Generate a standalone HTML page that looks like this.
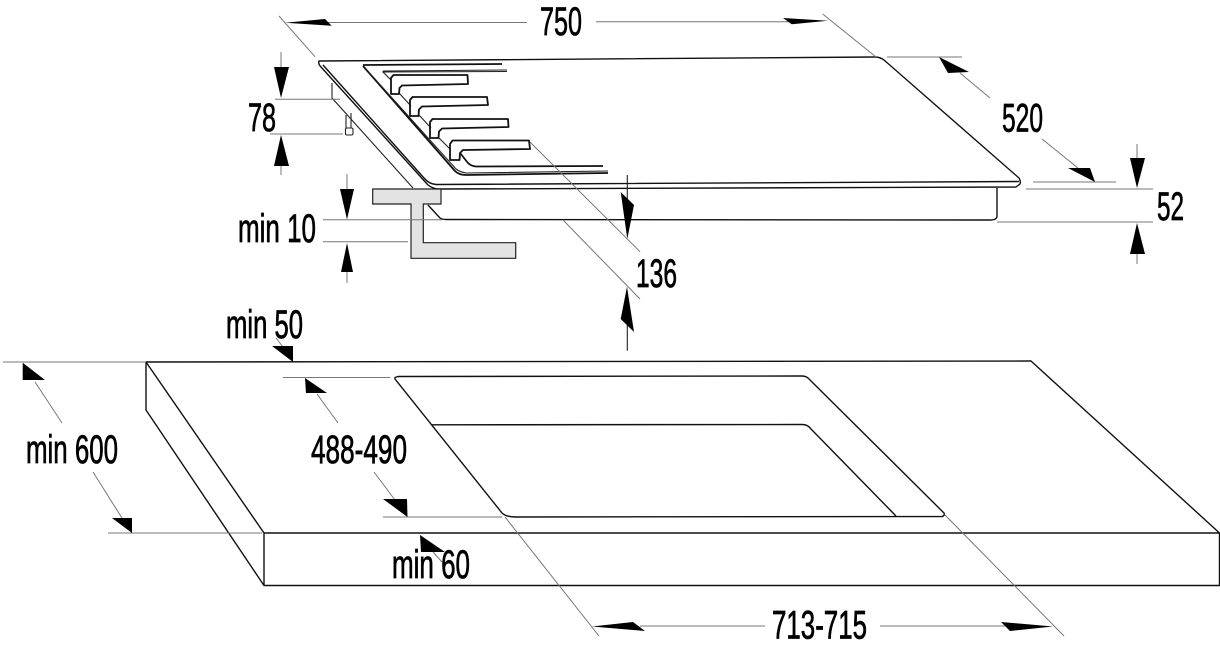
<!DOCTYPE html>
<html><head><meta charset="utf-8"><style>
html,body{margin:0;padding:0;background:#fff;width:1220px;height:648px;overflow:hidden}
svg{display:block}
text{font-family:"Liberation Sans",sans-serif;font-size:39.5px;fill:#000;stroke:#000;stroke-width:.75px}
.o{fill:none;stroke:#111;stroke-width:1.4;stroke-linejoin:round}
.t{fill:none;stroke:#111;stroke-width:1.8;stroke-linejoin:round}
.d{fill:none;stroke:#777;stroke-width:1}
.k{fill:none;stroke:#222;stroke-width:1.1}
.a{fill:#000;stroke:none}
</style></head><body>
<svg width="1220" height="648" viewBox="0 0 1220 648" xmlns="http://www.w3.org/2000/svg">
<!-- hob -->
<path class="o" d="M319,61 L875,57 Q880,57 884,60 L1019,178 Q1021,181 1020,184 L1016,187 L440,189 Q433,189 428,185 L321,67 Q318,64 319,61Z"/>
<path class="o" d="M323,65 L424,178 Q429,184 436,184.500 L1019,181.500"/>
<path class="o" d="M428,205 L440,218 Q442,219.500 446,219.500 L990,220 Q997,220 997,216 L997,188"/>
<path class="k" d="M332,83 V98 L413,188"/>
<path class="k" d="M346,115 V128 M351,113 V128"/>
<rect x="345.500" y="128" width="7.500" height="7" rx="1.500" class="k"/>
<!-- recess -->
<path class="t" d="M363,65 L502,64"/>
<path class="t" d="M363,66 L455,171 Q459,175 466,175 L608,173"/>
<path class="k" d="M365,68 L456,169 Q460,172 466,173 L608,171"/>
<path class="k" d="M383,71 L507,70 M507,71.500 L383,72 L391,80"/>
<path class="k" d="M399,93 L411,106 M419,115 L431,128 M438,137 L450,149"/>
<path class="t" d="M460,153 L468,163 Q471,166 476,166.500 L603,166"/>
<!-- grates -->
<g id="g">
<path class="t" d="M391,94 V78 L393.500,75 H467.500 L468,84 L402,85.500 L399.500,88 L399,94 Z"/>
<path class="t" d="M410,116 V100 L412.500,97 H487 L488,105 L422,106.500 L419,109.500 L418.500,116 Z"/>
<path class="t" d="M430,138 V122 L432.500,119 H508 L508.500,127 L442,128.500 L439,131.500 L438.500,138 Z"/>
<path class="t" d="M450,160 V144 L452.500,140.500 H529 L530,149 L463,150 L460,153 L459.500,160 Z"/>
</g>
<!-- bracket -->
<path d="M372.700,189 H441 V204 H423.300 V242.700 H515.700 V258.300 H411 V204 H372.700 Z" fill="#e3e3e3" stroke="#222" stroke-width="1.200"/>
<!-- countertop -->
<path class="o" d="M146,362 L1031,361 L1219.500,533 L264,533 L146,362 V410 L264,585.500 H1219.500 V533 M264,533 V585.500"/>
<path class="o" d="M395,377.500 L398,376.500 L802,376 Q807,376 810,380 L944,513 Q945,516 942,516.500 L516,517 Q506,517 502,513 L395,379 Z"/>
<path class="o" d="M432,424.800 L802,424.500 Q808,424.500 811,429 L896,516"/>
<!-- dimension lines -->
<path class="d" d="M279,16 L315,56.700 M822.700,14 L876,57 M296,22.500 H527 M596,21.700 H800"/>
<path class="d" d="M887,57 H962 M960,73 L990,98 M1042,139 L1078,168 M1033,182 H1116 M1026,189 H1153 M997,222 H1153 M1137,144 V160 M1137,252 V264"/>
<path class="d" d="M275,99.300 H340 M270,134 H343 M281,52 V70 M281,160 V175"/>
<path class="d" d="M323,219.700 H442 M323,241.700 H408 M347,174 V192 M347,265 V283"/>
<path class="k" d="M627.300,175 V205 M627.300,320 V350.700"/>
<path class="d" d="M530,142 L640,251.700 M563,220 L640,299"/>
<path class="d" d="M3,362 H146 M108,533 H262 M35,382 L62,423 M93,472 L122,518"/>
<path class="d" d="M276,338 L283,347"/>
<path class="d" d="M283,377.500 H390 M317,394 L338,423 M374,472 L395,500 M383,517 H502"/>
<path class="d" d="M433,552 L442,562"/>
<path class="d" d="M505,517 L599,636 M945,515 L1064,636 M640,626 H765 M880,626 H1005"/>
<!-- arrowheads -->
<path class="a" d="M285,22.700 L325,19 L331.700,25.700 Z"/>
<path class="a" d="M828,20.700 L783,18 L791.700,24.300 Z"/>
<path class="a" d="M939,57 L948,73 L969,72 Z"/>
<path class="a" d="M1095,182 L1068,168 L1090,168 Z"/>
<path class="a" d="M1137,188 L1130,158 H1145 Z"/>
<path class="a" d="M1137,223 L1130,254 H1145 Z"/>
<path class="a" d="M281,98 L274,67 H289 Z"/>
<path class="a" d="M281,135 L274,166 H289 Z"/>
<path class="a" d="M347,219.500 L340,189 H354 Z"/>
<path class="a" d="M347,243 L341,272 H353 Z"/>
<path class="a" d="M627.300,239 L620.700,192 L634,205 Z"/>
<path class="a" d="M627,286.700 L620.700,319 L634,332 Z"/>
<path class="a" d="M22.700,362.700 V380 H45 Z"/>
<path class="a" d="M132,533 L112,518 H132 Z"/>
<path class="a" d="M293,362 L272,346 H293 Z"/>
<path class="a" d="M305,378 L306,393 H327 Z"/>
<path class="a" d="M407.500,517 L383,499 H407 Z"/>
<path class="a" d="M420,535 L421,552 H445 Z"/>
<path class="a" d="M592,626.500 L633,622 L645,631 Z"/>
<path class="a" d="M1053,626.500 L1001,622 L1010,631 Z"/>
<!-- labels -->
<text x="540" y="35" textLength="42" lengthAdjust="spacingAndGlyphs">750</text>
<text x="1002" y="131.500" textLength="41" lengthAdjust="spacingAndGlyphs">520</text>
<text x="248" y="131" textLength="28" lengthAdjust="spacingAndGlyphs">78</text>
<text x="1157" y="220" textLength="27" lengthAdjust="spacingAndGlyphs">52</text>
<text x="238" y="242" textLength="78" lengthAdjust="spacingAndGlyphs">min 10</text>
<text x="636" y="287" textLength="41" lengthAdjust="spacingAndGlyphs">136</text>
<text x="226" y="338" textLength="77" lengthAdjust="spacingAndGlyphs">min 50</text>
<text x="26" y="463" textLength="92" lengthAdjust="spacingAndGlyphs">min 600</text>
<text x="311" y="463" textLength="96" lengthAdjust="spacingAndGlyphs">488-490</text>
<text x="392" y="578" textLength="78" lengthAdjust="spacingAndGlyphs">min 60</text>
<text x="772" y="638.500" textLength="95" lengthAdjust="spacingAndGlyphs">713-715</text>
</svg>
</body></html>
